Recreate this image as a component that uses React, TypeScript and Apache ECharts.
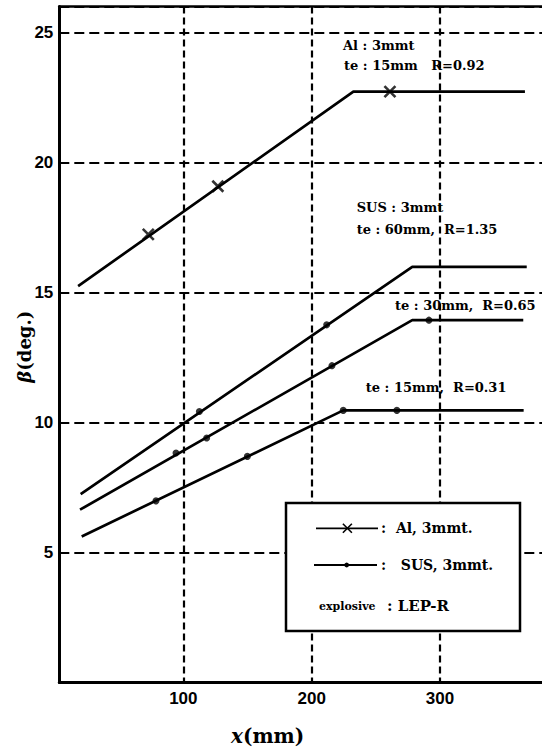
import React, { useEffect, useRef } from "react";
import * as echarts from "echarts";

// axis ranges and ticks
const X_MIN = 3.35;
const X_MAX = 379.5;
const Y_MIN = 0;
const Y_MAX = 26;
const xTickLabels = [100, 200, 300];
const yTickLabels = [5, 10, 15, 20, 25];

// Al, 3mmt (te 15mm)
const alLine = [
  [18.0, 15.25],
  [232.5, 22.73],
  [366.2, 22.73],
];
const alPoints = [
  [72.7, 17.24],
  [126.9, 19.09],
  [261.0, 22.73],
];

// SUS, 3mmt, te 60mm
const sus60Line = [
  [20.0, 7.25],
  [278.4, 15.99],
  [367.6, 15.99],
];
const sus60Points = [
  [112.5, 10.43],
  [211.7, 13.76],
];

// SUS, 3mmt, te 30mm
const sus30Line = [
  [19.5, 6.65],
  [278.4, 13.94],
  [364.9, 13.94],
];
const sus30Points = [
  [94.3, 8.83],
  [118.2, 9.41],
  [215.8, 12.19],
  [291.4, 13.94],
];

// SUS, 3mmt, te 15mm
const sus15Line = [
  [20.8, 5.62],
  [224.6, 10.47],
  [365.2, 10.47],
];
const sus15Points = [
  [78.7, 6.99],
  [149.9, 8.7],
  [224.6, 10.47],
  [266.4, 10.47],
];

const SERIF = "'DejaVu Serif', 'Liberation Serif', serif";
const TICK_FONT = "'Liberation Sans Narrow', 'Liberation Sans', Arial, sans-serif";

function lineSeries(data: number[][]) {
  return {
    type: "line",
    data,
    showSymbol: false,
    symbol: "none",
    lineStyle: { color: "#000", width: 2.7 },
    z: 5,
    silent: true,
  };
}

export default function App() {
  const ref = useRef<HTMLDivElement>(null);
  useEffect(() => {
    if (!ref.current) return;
    const chart = echarts.init(ref.current, null, { renderer: "svg" });
    const annoFont = `bold 13px ${SERIF}`;
    const legFont = `bold 14px ${SERIF}`;
    const option: any = {
      animation: false,
      backgroundColor: "#fff",
      grid: { left: 59.3, right: 0, top: 6.6, bottom: 65.4 },
      xAxis: [
        {
          type: "value",
          min: X_MIN,
          max: X_MAX,
          minInterval: 100,
          maxInterval: 100,
          position: "bottom",
          axisLine: { show: true, onZero: false, lineStyle: { color: "#000", width: 3 } },
          axisTick: { show: false },
          axisLabel: {
            margin: 7,
            color: "#000",
            fontFamily: TICK_FONT,
            fontWeight: "bold",
            fontSize: 17,
            showMinLabel: false,
            showMaxLabel: false,
            formatter: (v: number) => (xTickLabels.indexOf(Math.round(v)) >= 0 && Math.abs(v - Math.round(v)) < 1e-6 ? String(v) : ""),
          },
          splitLine: {
            show: true,
            showMinLine: false,
            showMaxLine: false,
            lineStyle: { color: "#000", width: 2.2, type: [7, 4] },
          },
        },
        {
          type: "value",
          min: X_MIN,
          max: X_MAX,
          position: "top",
          axisLine: { show: true, onZero: false, lineStyle: { color: "#000", width: 2.5 } },
          axisTick: { show: false },
          axisLabel: { show: false },
          splitLine: { show: false },
        },
      ],
      yAxis: {
        type: "value",
        min: Y_MIN,
        max: Y_MAX,
        interval: 5,
        axisLine: { show: true, onZero: false, lineStyle: { color: "#000", width: 3 } },
        axisTick: { show: false },
        axisLabel: {
          margin: 6,
          color: "#000",
          fontFamily: TICK_FONT,
          fontWeight: "bold",
          fontSize: 17,
          formatter: (v: number) => (yTickLabels.indexOf(v) >= 0 ? String(v) : ""),
        },
        splitLine: {
          show: true,
          lineStyle: { color: "#000", width: 2.2, type: [10, 5] },
        },
      },
      series: [
        lineSeries(alLine),
        lineSeries(sus60Line),
        lineSeries(sus30Line),
        lineSeries(sus15Line),
        {
          type: "scatter",
          data: alPoints,
          symbol: "path://M0,0L10,10M10,0L0,10",
          symbolSize: 11,
          itemStyle: { color: "rgba(0,0,0,0)", borderColor: "#000", borderWidth: 2.6 },
          z: 6,
          silent: true,
        },
        {
          type: "scatter",
          data: [...sus60Points, ...sus30Points, ...sus15Points],
          symbol: "circle",
          symbolSize: 7,
          itemStyle: { color: "#000" },
          z: 6,
          silent: true,
        },
      ],
      graphic: [
        // annotations
        { type: "text", z: 100, x: 343, y: 45, style: { text: "Al : 3mmt", font: annoFont, fill: "#000", verticalAlign: "middle" } },
        { type: "text", z: 100, x: 344, y: 65.7, style: { text: "te : 15mm   R=0.92", font: annoFont, fill: "#000", verticalAlign: "middle" } },
        { type: "text", z: 100, x: 356.7, y: 207.3, style: { text: "SUS : 3mmt", font: annoFont, fill: "#000", verticalAlign: "middle" } },
        { type: "text", z: 100, x: 356.7, y: 229, style: { text: "te : 60mm,  R=1.35", font: annoFont, fill: "#000", verticalAlign: "middle" } },
        { type: "text", z: 100, x: 395, y: 305, style: { text: "te : 30mm,  R=0.65", font: annoFont, fill: "#000", verticalAlign: "middle" } },
        { type: "text", z: 100, x: 365.8, y: 387.3, style: { text: "te : 15mm,  R=0.31", font: annoFont, fill: "#000", verticalAlign: "middle" } },
        // legend box
        { type: "rect", z: 100, shape: { x: 286, y: 503, width: 234, height: 128 }, style: { fill: "#fff", stroke: "#000", lineWidth: 2.5 } },
        { type: "line", z: 101, shape: { x1: 316, y1: 528.3, x2: 378, y2: 528.3 }, style: { stroke: "#000", lineWidth: 1.8 } },
        { type: "line", z: 101, shape: { x1: 342.9, y1: 523.8, x2: 351.9, y2: 532.8 }, style: { stroke: "#000", lineWidth: 1.6 } },
        { type: "line", z: 101, shape: { x1: 351.9, y1: 523.8, x2: 342.9, y2: 532.8 }, style: { stroke: "#000", lineWidth: 1.6 } },
        { type: "text", z: 101, x: 381, y: 528.3, style: { text: ":  Al, 3mmt.", font: legFont, fill: "#000", verticalAlign: "middle" } },
        { type: "line", z: 101, shape: { x1: 314, y1: 565, x2: 377, y2: 565 }, style: { stroke: "#000", lineWidth: 1.8 } },
        { type: "circle", z: 101, shape: { cx: 346.7, cy: 565, r: 2.4 }, style: { fill: "#000" } },
        { type: "text", z: 101, x: 381, y: 565, style: { text: ":   SUS, 3mmt.", font: legFont, fill: "#000", verticalAlign: "middle" } },
        { type: "text", z: 101, x: 319, y: 606, style: { text: "explosive", font: `bold 11px ${SERIF}`, fill: "#000", verticalAlign: "middle" } },
        { type: "text", z: 101, x: 387, y: 606, style: { text: ": LEP-R", font: `bold 15px ${SERIF}`, fill: "#000", verticalAlign: "middle" } },
        // axis names
        {
          type: "text",
          z: 100,
          x: 231,
          y: 736,
          style: {
            text: "{i|x}(mm)",
            font: `bold 20px ${SERIF}`,
            fill: "#000",
            verticalAlign: "middle",
            rich: { i: { fontStyle: "italic", fontWeight: "bold", fontSize: 20, fontFamily: SERIF } },
          },
        },
        {
          type: "text",
          z: 100,
          x: 24,
          y: 346.7,
          rotation: Math.PI / 2,
          style: {
            text: "{i|β}(deg.)",
            font: `bold 18px ${SERIF}`,
            fill: "#000",
            align: "center",
            verticalAlign: "middle",
            rich: { i: { fontStyle: "italic", fontWeight: "bold", fontSize: 18, fontFamily: SERIF } },
          },
        },
      ],
    };
    chart.setOption(option);
    return () => chart.dispose();
  }, []);
  return (
    <div
      ref={ref}
      style={{ position: "absolute", left: 0, top: 0, width: 542, height: 748, background: "#fff" }}
    />
  );
}
